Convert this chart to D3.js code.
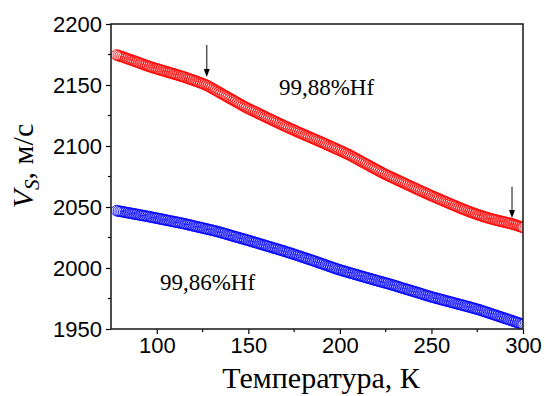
<!DOCTYPE html>
<html>
<head>
<meta charset="utf-8">
<script src="https://cdn.jsdelivr.net/npm/d3@7"></script>
<style>
  body { margin: 0; background: #fff; }
  svg { display: block; }
</style>
</head>
<body>
<div id="chart"></div>
<script>
// temperature grid, K
const temps = [
  78, 79, 80, 81, 82, 83, 84, 85, 86, 87, 88, 89, 90, 91, 92, 93, 94, 95, 96, 97, 98, 99,
  100, 101, 102, 103, 104, 105, 106, 107, 108, 109, 110, 111, 112, 113, 114, 115, 116, 117, 118, 119,
  120, 121, 122, 123, 124, 125, 126, 127, 128, 129, 130, 131, 132, 133, 134, 135, 136, 137, 138, 139,
  140, 141, 142, 143, 144, 145, 146, 147, 148, 149, 150, 151, 152, 153, 154, 155, 156, 157, 158, 159,
  160, 161, 162, 163, 164, 165, 166, 167, 168, 169, 170, 171, 172, 173, 174, 175, 176, 177, 178, 179,
  180, 181, 182, 183, 184, 185, 186, 187, 188, 189, 190, 191, 192, 193, 194, 195, 196, 197, 198, 199,
  200, 201, 202, 203, 204, 205, 206, 207, 208, 209, 210, 211, 212, 213, 214, 215, 216, 217, 218, 219,
  220, 221, 222, 223, 224, 225, 226, 227, 228, 229, 230, 231, 232, 233, 234, 235, 236, 237, 238, 239,
  240, 241, 242, 243, 244, 245, 246, 247, 248, 249, 250, 251, 252, 253, 254, 255, 256, 257, 258, 259,
  260, 261, 262, 263, 264, 265, 266, 267, 268, 269, 270, 271, 272, 273, 274, 275, 276, 277, 278, 279,
  280, 281, 282, 283, 284, 285, 286, 287, 288, 289, 290, 291, 292, 293, 294, 295, 296, 297, 298, 299,
  300
];

// 99,88%Hf (red), m/s
const vsRed = [
  2174.6, 2174.1, 2173.6, 2173.2, 2172.7, 2172.1, 2171.6, 2171.0, 2170.5, 2170.0, 2169.5, 2168.9, 2168.4, 2167.8, 2167.3, 2166.7, 2166.2, 2165.6, 2165.1, 2164.6, 2164.2, 2163.7,
  2163.3, 2162.8, 2162.4, 2161.9, 2161.5, 2161.0, 2160.6, 2160.1, 2159.7, 2159.2, 2158.8, 2158.3, 2157.9, 2157.4, 2157.0, 2156.5, 2156.0, 2155.4, 2154.9, 2154.4,
  2153.9, 2153.3, 2152.8, 2152.2, 2151.7, 2151.1, 2150.5, 2149.9, 2149.2, 2148.3, 2147.5, 2146.6, 2145.8, 2144.9, 2144.1, 2143.2, 2142.4, 2141.5, 2140.7, 2139.8,
  2139.0, 2138.1, 2137.3, 2136.4, 2135.6, 2134.7, 2133.9, 2133.0, 2132.2, 2131.4, 2130.6, 2129.9, 2129.2, 2128.5, 2127.8, 2127.0, 2126.3, 2125.6, 2124.9, 2124.1,
  2123.4, 2122.7, 2122.0, 2121.2, 2120.5, 2119.8, 2119.1, 2118.4, 2117.7, 2117.0, 2116.3, 2115.6, 2114.9, 2114.2, 2113.6, 2112.9, 2112.2, 2111.5, 2110.9, 2110.2,
  2109.6, 2108.9, 2108.3, 2107.6, 2107.0, 2106.3, 2105.7, 2105.0, 2104.4, 2103.7, 2103.1, 2102.4, 2101.7, 2101.0, 2100.4, 2099.7, 2099.0, 2098.3, 2097.7, 2097.0,
  2096.3, 2095.6, 2094.9, 2094.2, 2093.5, 2092.8, 2092.1, 2091.2, 2090.4, 2089.6, 2088.8, 2087.9, 2087.1, 2086.3, 2085.5, 2084.7, 2083.9, 2083.0, 2082.2, 2081.4,
  2080.6, 2079.8, 2079.0, 2078.2, 2077.4, 2076.6, 2075.9, 2075.2, 2074.5, 2073.8, 2073.1, 2072.4, 2071.7, 2071.0, 2070.3, 2069.6, 2068.9, 2068.2, 2067.5, 2066.8,
  2066.1, 2065.4, 2064.7, 2064.0, 2063.3, 2062.6, 2062.0, 2061.3, 2060.6, 2059.9, 2059.3, 2058.6, 2058.0, 2057.3, 2056.7, 2056.0, 2055.4, 2054.7, 2054.1, 2053.4,
  2052.8, 2052.1, 2051.5, 2050.9, 2050.3, 2049.6, 2049.0, 2048.4, 2047.8, 2047.2, 2046.6, 2046.0, 2045.5, 2044.9, 2044.4, 2043.9, 2043.4, 2042.9, 2042.4, 2041.9,
  2041.5, 2041.0, 2040.6, 2040.2, 2039.8, 2039.4, 2039.0, 2038.6, 2038.3, 2037.9, 2037.6, 2037.2, 2036.9, 2036.5, 2036.1, 2035.7, 2035.2, 2034.7, 2034.2, 2033.7,
  2033.2
];

// 99,86%Hf (blue), m/s
const vsBlue = [
  2047.0, 2046.7, 2046.4, 2046.2, 2045.9, 2045.6, 2045.3, 2045.1, 2044.8, 2044.5, 2044.2, 2044.0, 2043.7, 2043.4, 2043.1, 2042.9, 2042.6, 2042.3, 2042.0, 2041.7, 2041.4, 2041.1,
  2040.8, 2040.5, 2040.2, 2039.9, 2039.6, 2039.3, 2039.0, 2038.7, 2038.4, 2038.1, 2037.8, 2037.5, 2037.2, 2036.9, 2036.6, 2036.3, 2035.9, 2035.6, 2035.2, 2034.9,
  2034.5, 2034.2, 2033.8, 2033.5, 2033.1, 2032.8, 2032.4, 2032.1, 2031.7, 2031.4, 2031.0, 2030.7, 2030.3, 2029.9, 2029.5, 2029.1, 2028.6, 2028.2, 2027.8, 2027.4,
  2026.9, 2026.5, 2026.0, 2025.6, 2025.2, 2024.8, 2024.3, 2023.9, 2023.5, 2023.1, 2022.6, 2022.2, 2021.7, 2021.3, 2020.8, 2020.4, 2019.9, 2019.5, 2019.0, 2018.6,
  2018.1, 2017.7, 2017.2, 2016.8, 2016.3, 2015.9, 2015.4, 2015.0, 2014.5, 2014.1, 2013.6, 2013.1, 2012.6, 2012.2, 2011.7, 2011.2, 2010.7, 2010.2, 2009.7, 2009.2,
  2008.7, 2008.2, 2007.7, 2007.2, 2006.7, 2006.2, 2005.7, 2005.2, 2004.6, 2004.1, 2003.6, 2003.1, 2002.5, 2002.0, 2001.5, 2001.0, 2000.4, 1999.9, 1999.4, 1998.9,
  1998.4, 1998.0, 1997.5, 1997.1, 1996.7, 1996.2, 1995.8, 1995.4, 1994.9, 1994.5, 1994.1, 1993.6, 1993.2, 1992.8, 1992.3, 1991.9, 1991.5, 1991.0, 1990.6, 1990.2,
  1989.8, 1989.3, 1988.9, 1988.5, 1988.1, 1987.7, 1987.3, 1986.8, 1986.4, 1986.0, 1985.5, 1985.1, 1984.6, 1984.1, 1983.6, 1983.2, 1982.7, 1982.3, 1981.8, 1981.4,
  1980.9, 1980.5, 1980.0, 1979.6, 1979.1, 1978.6, 1978.1, 1977.7, 1977.2, 1976.8, 1976.3, 1975.9, 1975.5, 1975.1, 1974.7, 1974.3, 1973.9, 1973.5, 1973.1, 1972.7,
  1972.3, 1971.9, 1971.5, 1971.1, 1970.7, 1970.3, 1969.9, 1969.5, 1969.1, 1968.7, 1968.3, 1967.9, 1967.5, 1967.0, 1966.6, 1966.2, 1965.8, 1965.3, 1964.8, 1964.3,
  1963.8, 1963.3, 1962.8, 1962.3, 1961.8, 1961.3, 1960.8, 1960.3, 1959.8, 1959.3, 1958.8, 1958.3, 1957.8, 1957.3, 1956.8, 1956.3, 1955.8, 1955.3, 1954.8, 1954.3,
  1953.8
];

const xTicks = [100, 150, 200, 250, 300];
const xMinor = [125, 175, 225, 275];
const yTicks = [1950, 2000, 2050, 2100, 2150, 2200];
const yMinor = [1975, 2025, 2075, 2125, 2175];

// arrows marking the kinks: [T, V at tail, V at tip]
const arrows = [[127.3, 2182.8, 2156.6], [294, 2066.6, 2041]];

const labels = [
  { text: '99,88%Hf', t: 166.7, v: 2141.8 },
  { text: '99,86%Hf', t: 101.7, v: 1982 }
];

const W = 545, H = 396;
const margin = {top: 24, right: 22, bottom: 67, left: 111};
const width = W - margin.left - margin.right;
const height = H - margin.top - margin.bottom;

const svg = d3.select('#chart').append('svg')
  .attr('width', W)
  .attr('height', H);

const g = svg.append('g')
  .attr('transform', 'translate(' + margin.left + ',' + margin.top + ')');

const x = d3.scaleLinear().domain([75, 300]).range([0, width]);
const y = d3.scaleLinear().domain([1950, 2200]).range([height, 0]);

const sans = "'Liberation Sans', Arial, sans-serif";
const serif = "'Liberation Serif', 'Times New Roman', serif";

// clip markers to the plot box
g.append('clipPath').attr('id', 'clip')
  .append('rect').attr('width', width).attr('height', height);

const plot = g.append('g').attr('clip-path', 'url(#clip)');

function drawSeries(vals, color) {
  plot.append('g')
    .selectAll('circle')
    .data(temps.map((t, i) => [t, vals[i]]))
    .enter().append('circle')
    .attr('cx', d => x(d[0]))
    .attr('cy', d => y(d[1]))
    .attr('r', 5.3)
    .attr('fill', 'none')
    .attr('stroke', color)
    .attr('stroke-width', 0.9);
}
drawSeries(vsRed, '#ff0000');
drawSeries(vsBlue, '#0000ff');

// axes
const xAxis = d3.axisBottom(x).tickValues(xTicks).tickSize(5).tickPadding(3).tickFormat(d3.format('d'));
const yAxis = d3.axisLeft(y).tickValues(yTicks).tickSize(5).tickPadding(4).tickFormat(d3.format('d'));

const gx = g.append('g')
  .attr('transform', 'translate(0,' + height + ')')
  .call(xAxis);
gx.append('g').selectAll('line').data(xMinor).enter().append('line')
  .attr('x1', d => x(d)).attr('x2', d => x(d))
  .attr('y1', 0).attr('y2', 3)
  .attr('stroke', '#000').attr('stroke-width', 1.2);

const gy = g.append('g').call(yAxis);
gy.append('g').selectAll('line').data(yMinor).enter().append('line')
  .attr('y1', d => y(d)).attr('y2', d => y(d))
  .attr('x1', 0).attr('x2', -3)
  .attr('stroke', '#000').attr('stroke-width', 1.2);

[gx, gy].forEach(a => {
  a.select('.domain').remove();
  a.selectAll('.tick line').attr('stroke', '#000').attr('stroke-width', 1.2);
  a.selectAll('.tick text')
    .style('font-family', sans)
    .style('font-size', '22px')
    .attr('fill', '#000');
});

// frame
g.append('rect')
  .attr('width', width)
  .attr('height', height)
  .attr('fill', 'none')
  .attr('stroke', '#222')
  .attr('stroke-width', 1.6);

// arrows
g.selectAll('.arrow')
  .data(arrows)
  .enter().append('line')
  .attr('class', 'arrow')
  .attr('x1', d => x(d[0])).attr('x2', d => x(d[0]))
  .attr('y1', d => y(d[1])).attr('y2', d => y(d[2]) - 7)
  .attr('stroke', '#333')
  .attr('stroke-width', 1.2);

g.selectAll('.arrowhead')
  .data(arrows)
  .enter().append('path')
  .attr('class', 'arrowhead')
  .attr('d', d => {
    const ax = x(d[0]), ay = y(d[2]);
    return 'M' + (ax - 3) + ',' + (ay - 8) + 'L' + (ax + 3) + ',' + (ay - 8) + 'L' + ax + ',' + ay + 'Z';
  })
  .attr('fill', '#000');

// series labels
g.selectAll('.lbl')
  .data(labels)
  .enter().append('text')
  .attr('class', 'lbl')
  .attr('x', d => x(d.t))
  .attr('y', d => y(d.v))
  .style('font-family', serif)
  .style('font-size', '23px')
  .attr('fill', '#000')
  .text(d => d.text);

// axis titles
svg.append('text')
  .attr('x', 321)
  .attr('y', 388)
  .attr('text-anchor', 'middle')
  .style('font-family', serif)
  .style('font-size', '30px')
  .attr('fill', '#000')
  .text('Температура, К');

const yt = svg.append('text')
  .attr('transform', 'translate(33,166) rotate(-90)')
  .attr('text-anchor', 'middle')
  .style('font-family', serif)
  .style('font-size', '30px')
  .attr('fill', '#000');
yt.append('tspan').style('font-style', 'italic').text('V');
yt.append('tspan').style('font-style', 'italic').style('font-size', '21px').attr('dy', 6).text('S');
yt.append('tspan').attr('dy', -6).text(', м/с');
</script>
</body>
</html>
